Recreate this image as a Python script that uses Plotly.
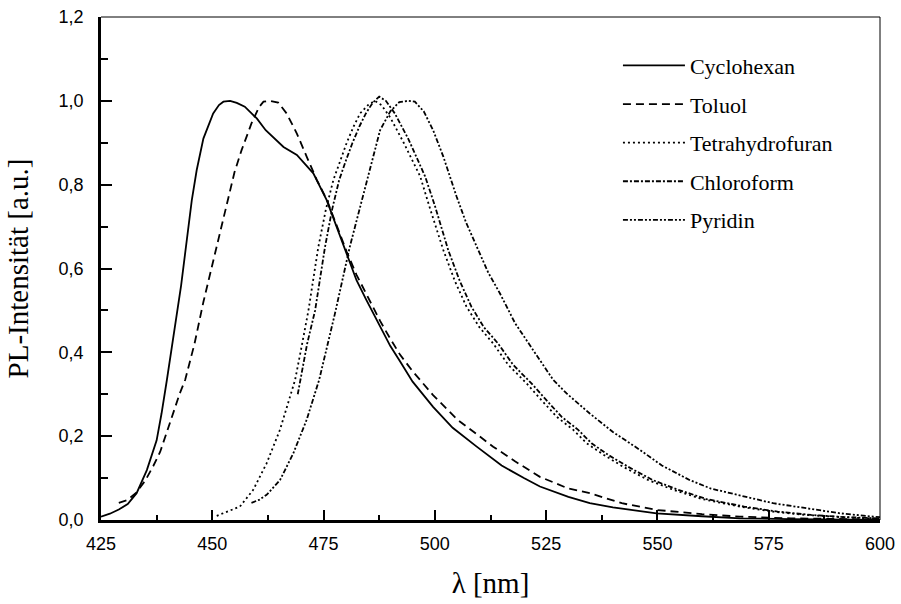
import plotly.graph_objects as go

# ---------------- data ----------------
cyc_x = [425, 427, 429, 431, 433, 435.3, 437.5, 438.6, 439.8, 441.5, 443, 445.4, 446.5, 448, 450.2,
         451.5, 452.5, 454, 455.5, 457.3, 460, 462, 463.7, 466, 469, 472.7, 475.7, 477.9, 480.2,
         482.4, 484.6, 487.7, 490, 492.2, 495, 499.6, 504, 509.4, 515, 520, 523.6, 530, 534.8,
         540, 549.8, 560, 568.5, 580, 590, 600]
cyc_y = [0.008, 0.015, 0.025, 0.038, 0.064, 0.119, 0.19, 0.254, 0.334, 0.45, 0.56, 0.763, 0.835, 0.91, 0.97,
         0.99, 0.998, 1.0, 0.995, 0.986, 0.958, 0.93, 0.914, 0.89, 0.871, 0.827, 0.763, 0.70, 0.636,
         0.572, 0.525, 0.461, 0.415, 0.378, 0.33, 0.27, 0.22, 0.175, 0.13, 0.10, 0.08, 0.055, 0.04,
         0.03, 0.016, 0.009, 0.004, 0.002, 0.001, 0.0]

tol_x = [429, 431, 433, 435, 436.8, 438.3, 439.8, 441.2, 442.7, 443.9, 446, 448, 450, 452, 453.6,
         455, 456.6, 458.8, 460.5, 461.5, 463, 464.8, 466.7, 469, 471.2, 473.5, 475.7, 478, 480.2,
         482.4, 485, 487.7, 490, 492.2, 495, 499.6, 505, 513.1, 518, 523.6, 530, 534.8, 542,
         549.8, 560, 568.5, 580, 590, 600]
tol_y = [0.041, 0.048, 0.066, 0.095, 0.13, 0.163, 0.21, 0.254, 0.302, 0.334, 0.42, 0.52, 0.61, 0.70, 0.771,
         0.83, 0.883, 0.946, 0.985, 0.998, 1.0, 0.996, 0.97, 0.922, 0.867, 0.811, 0.765, 0.70, 0.64,
         0.585, 0.53, 0.475, 0.432, 0.394, 0.355, 0.298, 0.24, 0.175, 0.14, 0.103, 0.075, 0.064, 0.04,
         0.024, 0.014, 0.008, 0.004, 0.002, 0.001]

thf_x = [451, 453, 456.2, 459.2, 462.2, 465.2, 467.5, 468.6, 470, 471.6, 473.8, 475.5, 477.2, 478.8,
         480.2, 481.8, 483.2, 485, 486.5, 488, 490, 493, 496.7, 499, 501.9, 504.5, 507.1, 510, 513.1,
         516.5, 520.6, 523.6, 527.4, 531.1, 534.1, 538, 542.3, 548, 553.6, 560, 568.5, 576, 583.5,
         591, 598.5, 600]
thf_y = [0.01, 0.018, 0.032, 0.072, 0.135, 0.215, 0.294, 0.334, 0.41, 0.50, 0.65, 0.74, 0.811, 0.86,
         0.90, 0.94, 0.97, 0.99, 1.0, 0.99, 0.96, 0.90, 0.82, 0.74, 0.644, 0.57, 0.509, 0.46, 0.421,
         0.37, 0.326, 0.29, 0.246, 0.215, 0.183, 0.155, 0.127, 0.095, 0.072, 0.05, 0.032, 0.02, 0.012,
         0.007, 0.004, 0.003]

chl_x = [469.2, 469.8, 471.3, 473.1, 475.3, 476.9, 478.5, 480.1, 481.5, 483.1, 484.5, 486, 487.5,
         489, 491, 494, 497.8, 500, 503, 505.6, 508.2, 511, 514.2, 517.6, 521.7, 524.7, 528.5, 532.2,
         535.2, 539, 543.4, 549, 554.7, 561, 569.5, 577, 584.5, 592, 599.5]
chl_y = [0.30, 0.334, 0.42, 0.50, 0.65, 0.74, 0.811, 0.86, 0.90, 0.94, 0.97, 0.995, 1.01,
         1.0, 0.97, 0.91, 0.82, 0.75, 0.644, 0.57, 0.509, 0.46, 0.421, 0.37, 0.326, 0.29, 0.246, 0.215,
         0.183, 0.155, 0.127, 0.095, 0.072, 0.05, 0.032, 0.02, 0.012, 0.007, 0.004]

pyr_x = [458.8, 460.5, 462.2, 465.2, 468.2, 471.2, 474, 477.5, 480.9, 484.7, 487.7, 490, 492, 494,
         495.5, 497.5, 499.6, 501.9, 504.9, 507, 509.8, 512, 514.6, 518, 522.1, 526.6, 529.6, 534.8,
         540, 546.1, 551, 557.3, 562, 568.5, 576, 583.5, 591, 598.5, 600]
pyr_y = [0.041, 0.048, 0.06, 0.095, 0.159, 0.239, 0.334, 0.49, 0.652, 0.811, 0.93, 0.975, 0.997, 1.0,
         0.998, 0.975, 0.93, 0.867, 0.771, 0.71, 0.644, 0.59, 0.541, 0.47, 0.405, 0.334, 0.302, 0.254,
         0.21, 0.167, 0.13, 0.095, 0.075, 0.058, 0.04, 0.028, 0.016, 0.008, 0.007]

names = ["Cyclohexan", "Toluol", "Tetrahydrofuran", "Chloroform", "Pyridin"]
xs = [cyc_x, tol_x, thf_x, chl_x, pyr_x]
ys = [cyc_y, tol_y, thf_y, chl_y, pyr_y]
dashes = ["solid", "8px,5px", "2px,3px", "5px,2px,2px,2px", "5px,2px,2px,2px,2px,2px"]

x_ticks = [425, 450, 475, 500, 525, 550, 575, 600]
y_ticks = [0.0, 0.2, 0.4, 0.6, 0.8, 1.0, 1.2]

fig = go.Figure()
for i, (n, x, y, d) in enumerate(zip(names, xs, ys, dashes)):
    fig.add_trace(go.Scatter(x=x, y=y, mode="lines", name=n, legendgroup=n,
                             line=dict(color="black", width=1.8, dash=d)))

fig.update_layout(
    width=901, height=604,
    margin=dict(l=101, r=21, t=17, b=84),
    paper_bgcolor="white", plot_bgcolor="white",
    separators=",.",
    showlegend=True,
    legend=dict(x=0.6636, y=0.945, xanchor="left", yanchor="top",
                font=dict(family="Liberation Serif", size=22, color="black"),
                tracegroupgap=7, bgcolor="rgba(0,0,0,0)", itemwidth=62),
    xaxis=dict(range=[425, 600], tickvals=x_ticks, ticks="inside", ticklen=10, tickwidth=1.5,
               tickcolor="black", automargin=False,
               minor=dict(dtick=12.5, tick0=425, ticks="inside", ticklen=5, tickwidth=1.5, tickcolor="black"),
               showline=True, linewidth=2.5, linecolor="black", showgrid=False, zeroline=False,
               tickfont=dict(family="Liberation Sans", size=18, color="black"),
               ticklabelstandoff=6,
               title=dict(text="λ [nm]", font=dict(family="Liberation Serif", size=29, color="black"),
                          standoff=20)),
    yaxis=dict(range=[0, 1.2], tickvals=y_ticks, tickformat=".1f", ticks="inside", ticklen=11,
               tickwidth=1.5, tickcolor="black", automargin=False,
               minor=dict(dtick=0.1, tick0=0, ticks="inside", ticklen=7, tickwidth=1.5, tickcolor="black"),
               showline=True, linewidth=2.5, linecolor="black", showgrid=False, zeroline=False,
               tickfont=dict(family="Liberation Sans", size=18, color="black"),
               ticklabelstandoff=11,
               title=dict(text="PL-Intensität [a.u.]", font=dict(family="Liberation Serif", size=29, color="black"),
                          standoff=22)),
    shapes=[dict(type="line", xref="paper", yref="paper", x0=0, x1=1, y0=1, y1=1,
                 line=dict(color="black", width=1)),
            dict(type="line", xref="paper", yref="paper", x0=1, x1=1, y0=0, y1=1,
                 line=dict(color="black", width=1))],
)

fig.write_html("out.html")
